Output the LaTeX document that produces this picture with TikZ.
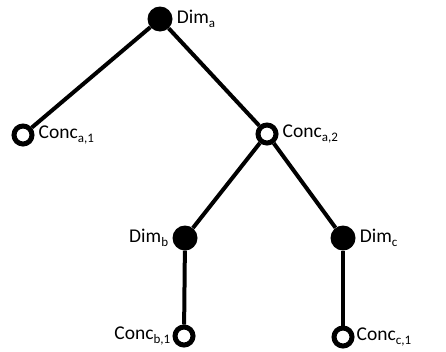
\documentclass[tikz,border=0pt]{standalone}
\usepackage{fontspec}
\setmainfont{Carlito}
\usetikzlibrary{positioning}
\newcommand{\lsub}[1]{\raisebox{-0.45ex}{\fontsize{13}{14}\selectfont #1}}
\tikzset{
  dim/.style={circle, fill=black, inner sep=0pt, minimum size=25pt},
  conc/.style={circle, draw=black, fill=white, line width=5pt, inner sep=0pt, minimum size=18pt},
  lbl/.style={font=\fontsize{19.5}{22}\selectfont, inner sep=1pt},
  edge/.style={line width=4pt}
}
\begin{document}
\begin{tikzpicture}[x=1pt, y=-1pt]
      \useasboundingbox (0, 0) rectangle (446, 351);
      % tree nodes
      \node[dim] (da) at (160, 19) {};
      \node[conc] (ca1) at (23, 135) {};
      \node[conc] (ca2) at (267, 134) {};
      \node[dim] (db) at (185, 238) {};
      \node[dim] (dc) at (343, 238) {};
      \node[conc] (cb1) at (184, 336) {};
      \node[conc] (cc1) at (343, 337) {};
      % branches
      \draw[edge] (da) -- (ca1);
      \draw[edge] (da) -- (ca2);
      \draw[edge] (ca2) -- (db);
      \draw[edge] (ca2) -- (dc);
      \draw[edge] (db) -- (cb1);
      \draw[edge] (dc) -- (cc1);
      % labels
      \node[lbl, right=3pt of da] {Dim\lsub{a}};
      \node[lbl, right=3pt of ca1] {Conc\lsub{a,1}};
      \node[lbl, right=3pt of ca2] {Conc\lsub{a,2}};
      \node[lbl, left=3pt of db] {Dim\lsub{b}};
      \node[lbl, right=3pt of dc] {Dim\lsub{c}};
      \node[lbl, left=1pt of cb1] {Conc\lsub{b,1}};
      \node[lbl, right=1pt of cc1] {Conc\lsub{c,1}};
    \end{tikzpicture}
\end{document}
